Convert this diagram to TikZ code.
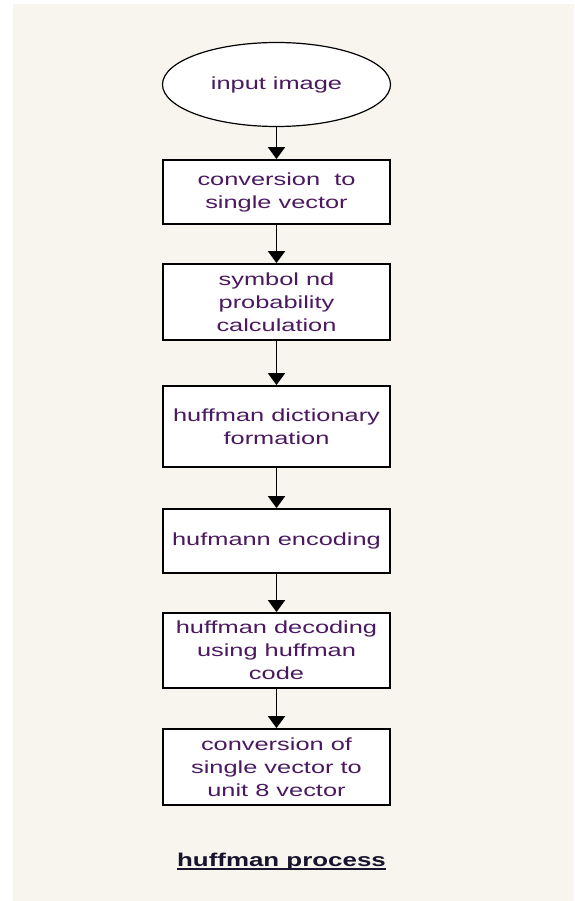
\documentclass[tikz,border=0pt]{standalone}
\usepackage{fontspec}
\setmainfont{Liberation Sans}
\newfontfamily\bodyf[FakeStretch=1.45,Ligatures=NoCommon]{Liberation Sans}
\newfontfamily\titlef[FakeStretch=1.4,Ligatures=NoCommon]{Liberation Sans}
\usetikzlibrary{shapes.geometric,arrows.meta}
\definecolor{panelbg}{RGB}{248,245,238}
\definecolor{txtc}{RGB}{75,25,95}
\definecolor{titlec}{RGB}{25,20,45}
\begin{document}
\begin{tikzpicture}[x=1pt,y=-1pt,
  boxn/.style={draw=black,line width=1.8pt,fill=white,rectangle,minimum width=227pt,
    inner sep=0pt,align=center,text=txtc,font=\bodyf\fontsize{17.5}{23}\selectfont},
  ellnode/.style={draw=black,line width=1.2pt,fill=white,ellipse,minimum width=228pt,
    minimum height=84pt,inner sep=0pt,text=txtc,font=\bodyf\fontsize{17.5}{23}\selectfont},
  arr/.style={draw=black,line width=1.8pt,-{Triangle[width=17pt,length=12pt]}}]
\useasboundingbox (0,0) rectangle (574,901);
\fill[white] (0,0) rectangle (574,901);
\fill[panelbg] (13,4) rectangle (574,901);

\node[ellnode] (e) at (276.5,84.5) {input image};
\node[boxn,minimum height=64pt] (b1) at (276.5,192) {conversion\ \ to\\single vector};
\node[boxn,minimum height=76pt] (b2) at (276.5,302) {symbol nd\\probability\\calculation};
\node[boxn,minimum height=81pt] (b3) at (276.5,426.5) {huffman dictionary\\formation};
\node[boxn,minimum height=64pt] (b4) at (276.5,541) {hufmann encoding};
\node[boxn,minimum height=75pt] (b5) at (276.5,650.5) {huffman decoding\\using huffman\\code};
\node[boxn,minimum height=76pt] (b6) at (276.5,767) {conversion of\\single vector to\\unit 8 vector};

\draw[arr] (e) -- (b1);
\draw[arr] (b1) -- (b2);
\draw[arr] (b2) -- (b3);
\draw[arr] (b3) -- (b4);
\draw[arr] (b4) -- (b5);
\draw[arr] (b5) -- (b6);

\node[font=\titlef\bfseries\fontsize{18.5}{22}\selectfont,text=titlec,anchor=base,inner sep=0pt]
  (title) at (281.5,866.7) {huffman process};
\draw[titlec,line width=1.5pt] ([yshift=-2.5pt]title.base west) -- ([yshift=-2.5pt]title.base east);
\end{tikzpicture}
\end{document}
